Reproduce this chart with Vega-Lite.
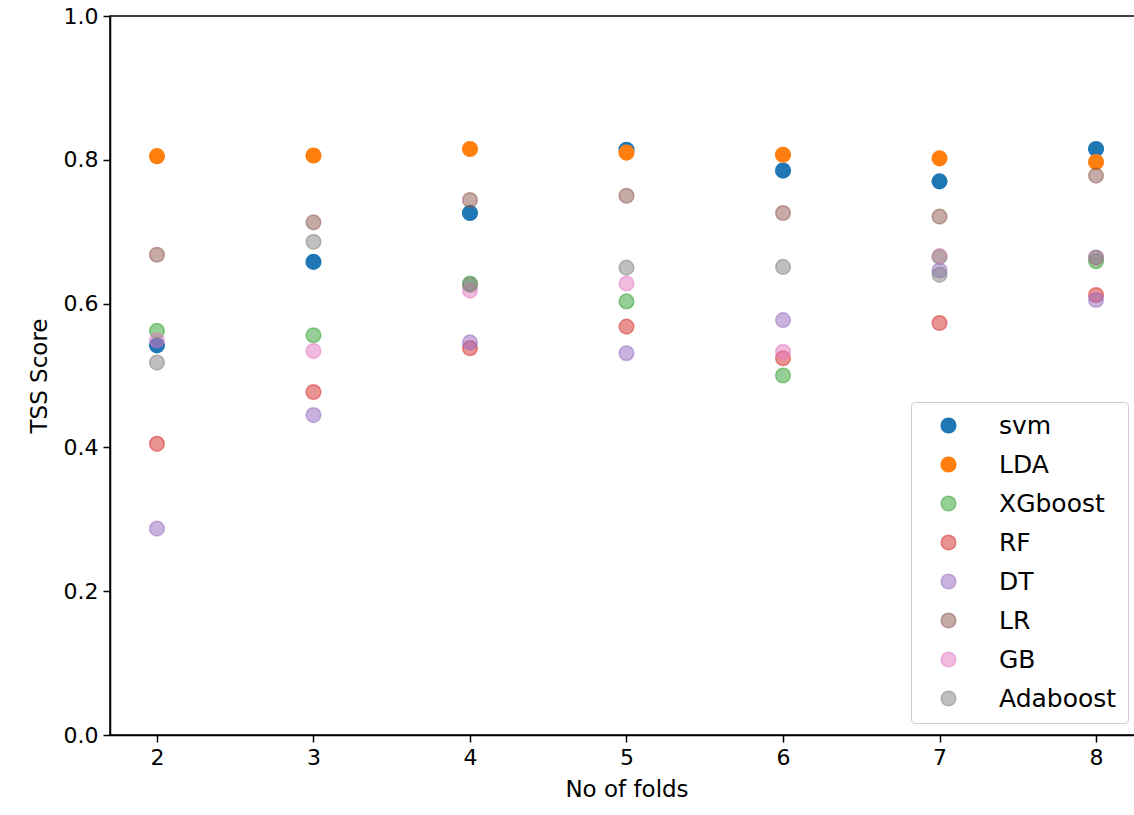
{
  "$schema": "https://vega.github.io/schema/vega-lite/v6.json",
  "autosize": {"type": "none"},
  "padding": {"left": 110, "top": 16, "right": 0, "bottom": 80},
  "width": 1033,
  "height": 719,
  "background": "white",
  "title": {"text": "Performance for different folds", "fontSize": 24, "font": "DejaVu Sans", "fontWeight": "normal", "color": "black", "offset": 12, "anchor": "middle"},
  "config": {
    "view": {"stroke": "black", "strokeWidth": 1.5},
    "axis": {"domainColor": "black", "domainWidth": 1.5, "tickColor": "black", "tickWidth": 1.5, "tickSize": 7, "labelFont": "DejaVu Sans", "labelFontSize": 22, "labelColor": "black", "titleFont": "DejaVu Sans", "titleFontSize": 23, "titleFontWeight": "normal", "titleColor": "black", "grid": false, "labelPadding": 5}
  },
  "data": {"values": [
    {"fold": 2, "model": "svm", "tss": 0.542},
    {"fold": 3, "model": "svm", "tss": 0.658},
    {"fold": 4, "model": "svm", "tss": 0.726},
    {"fold": 5, "model": "svm", "tss": 0.814},
    {"fold": 6, "model": "svm", "tss": 0.785},
    {"fold": 7, "model": "svm", "tss": 0.770},
    {"fold": 8, "model": "svm", "tss": 0.815},
    {"fold": 2, "model": "LDA", "tss": 0.805},
    {"fold": 3, "model": "LDA", "tss": 0.806},
    {"fold": 4, "model": "LDA", "tss": 0.815},
    {"fold": 5, "model": "LDA", "tss": 0.810},
    {"fold": 6, "model": "LDA", "tss": 0.807},
    {"fold": 7, "model": "LDA", "tss": 0.802},
    {"fold": 8, "model": "LDA", "tss": 0.797},
    {"fold": 2, "model": "XGboost", "tss": 0.562},
    {"fold": 3, "model": "XGboost", "tss": 0.556},
    {"fold": 4, "model": "XGboost", "tss": 0.628},
    {"fold": 5, "model": "XGboost", "tss": 0.603},
    {"fold": 6, "model": "XGboost", "tss": 0.500},
    {"fold": 7, "model": "XGboost", "tss": 0.665},
    {"fold": 8, "model": "XGboost", "tss": 0.659},
    {"fold": 2, "model": "RF", "tss": 0.405},
    {"fold": 3, "model": "RF", "tss": 0.477},
    {"fold": 4, "model": "RF", "tss": 0.538},
    {"fold": 5, "model": "RF", "tss": 0.568},
    {"fold": 6, "model": "RF", "tss": 0.524},
    {"fold": 7, "model": "RF", "tss": 0.573},
    {"fold": 8, "model": "RF", "tss": 0.612},
    {"fold": 2, "model": "DT", "tss": 0.287},
    {"fold": 3, "model": "DT", "tss": 0.445},
    {"fold": 4, "model": "DT", "tss": 0.546},
    {"fold": 5, "model": "DT", "tss": 0.531},
    {"fold": 6, "model": "DT", "tss": 0.577},
    {"fold": 7, "model": "DT", "tss": 0.646},
    {"fold": 8, "model": "DT", "tss": 0.605},
    {"fold": 2, "model": "LR", "tss": 0.668},
    {"fold": 3, "model": "LR", "tss": 0.713},
    {"fold": 4, "model": "LR", "tss": 0.744},
    {"fold": 5, "model": "LR", "tss": 0.750},
    {"fold": 6, "model": "LR", "tss": 0.726},
    {"fold": 7, "model": "LR", "tss": 0.721},
    {"fold": 8, "model": "LR", "tss": 0.778},
    {"fold": 2, "model": "GB", "tss": 0.549},
    {"fold": 3, "model": "GB", "tss": 0.534},
    {"fold": 4, "model": "GB", "tss": 0.618},
    {"fold": 5, "model": "GB", "tss": 0.628},
    {"fold": 6, "model": "GB", "tss": 0.533},
    {"fold": 7, "model": "GB", "tss": 0.666},
    {"fold": 8, "model": "GB", "tss": 0.664},
    {"fold": 2, "model": "Adaboost", "tss": 0.518},
    {"fold": 3, "model": "Adaboost", "tss": 0.686},
    {"fold": 4, "model": "Adaboost", "tss": 0.626},
    {"fold": 5, "model": "Adaboost", "tss": 0.650},
    {"fold": 6, "model": "Adaboost", "tss": 0.651},
    {"fold": 7, "model": "Adaboost", "tss": 0.640},
    {"fold": 8, "model": "Adaboost", "tss": 0.664}
  ]},
  "mark": {"type": "circle", "size": 215, "strokeWidth": 1.5, "opacity": 1, "clip": false},
  "encoding": {
    "x": {"field": "fold", "type": "quantitative", "scale": {"domain": [1.7, 8.3], "nice": false, "zero": false}, "axis": {"values": [2, 3, 4, 5, 6, 7, 8], "title": "No of folds", "titlePadding": 10}},
    "y": {"field": "tss", "type": "quantitative", "scale": {"domain": [0, 1], "nice": false}, "axis": {"values": [0, 0.2, 0.4, 0.6, 0.8, 1.0], "format": ".1f", "title": "TSS Score", "titlePadding": 12}},
    "color": {"field": "model", "type": "nominal", "sort": null,
      "scale": {"domain": ["svm", "LDA", "XGboost", "RF", "DT", "LR", "GB", "Adaboost"], "range": ["#1f77b4", "#ff7f0e", "rgba(44,160,44,0.5)", "rgba(214,39,40,0.5)", "rgba(148,103,189,0.5)", "rgba(140,86,75,0.5)", "rgba(227,119,194,0.5)", "rgba(127,127,127,0.5)"]},
      "legend": {"title": null, "orient": "none", "legendX": 801, "legendY": 386, "padding": 11, "symbolOffset": 14, "labelOffset": 38, "labelFont": "DejaVu Sans", "labelFontSize": 25, "labelColor": "black", "symbolSize": 215, "symbolStrokeWidth": 1.5, "symbolType": "circle", "rowPadding": 13, "strokeColor": "#cccccc", "fillColor": "rgba(255,255,255,0.8)", "cornerRadius": 4}},
    "stroke": {"field": "model", "type": "nominal", "sort": null,
      "scale": {"domain": ["svm", "LDA", "XGboost", "RF", "DT", "LR", "GB", "Adaboost"], "range": ["#1f77b4", "#ff7f0e", "rgba(44,160,44,0.5)", "rgba(214,39,40,0.5)", "rgba(148,103,189,0.5)", "rgba(140,86,75,0.5)", "rgba(227,119,194,0.5)", "rgba(127,127,127,0.5)"]}}
  }
}
